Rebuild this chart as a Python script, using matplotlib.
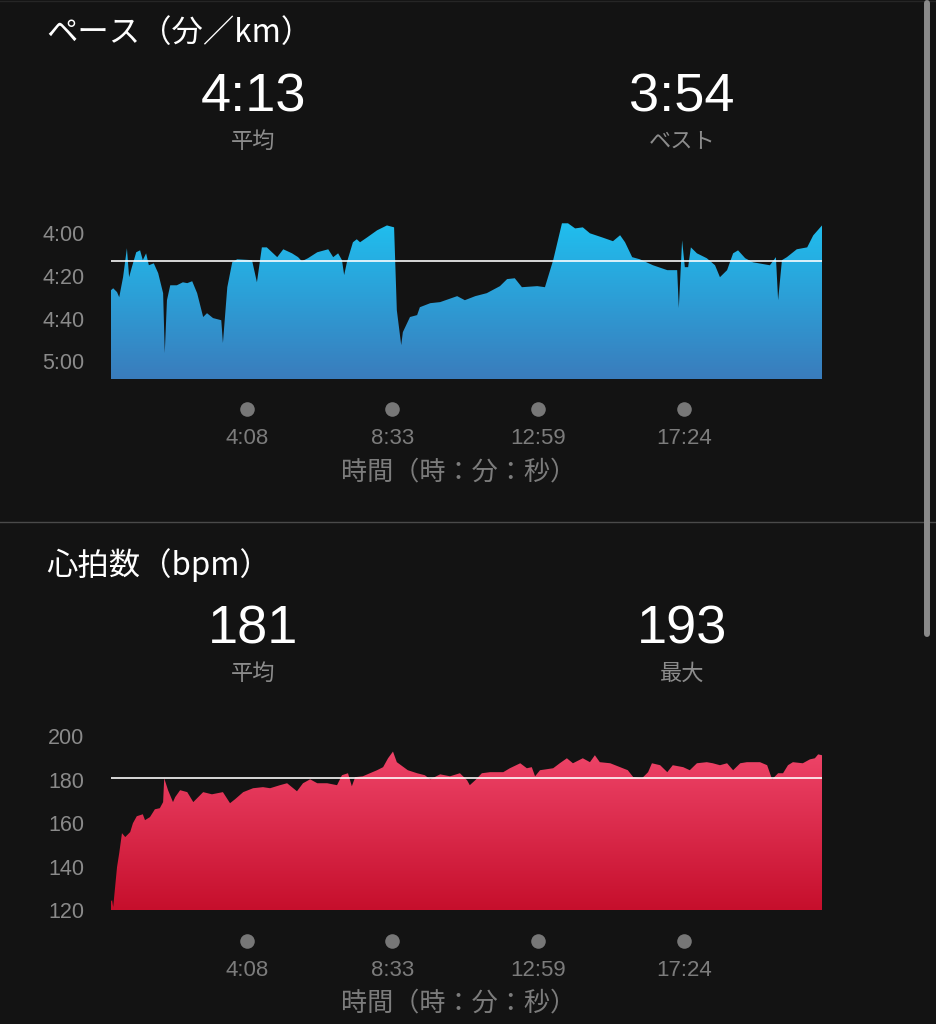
import numpy as np
import matplotlib
matplotlib.use('Agg')
import matplotlib.pyplot as plt
from matplotlib.colors import LinearSegmentedColormap
from matplotlib.lines import Line2D
from matplotlib import transforms

W, H = 937, 1024
bg = '#131313'

# elapsed time (s) / pace (s per km)
pace_t = [0, 4, 11, 15, 22, 29, 33, 38, 46, 53, 58, 64, 69, 78, 86, 95, 98, 102, 108, 120,
          131, 139, 148, 157, 168, 175, 186, 201, 204, 212, 221, 230, 257, 266, 275, 284, 303,
          314, 330, 341, 348, 359, 376, 396, 405, 414, 421, 425, 430, 441, 448, 454, 467, 485,
          503, 516, 521, 529, 532, 545, 558, 563, 582, 600, 631, 645, 664, 685, 709, 722, 736,
          749, 777, 791, 806, 822, 833, 846, 860, 873, 895, 915, 928, 937, 950, 964, 988, 1014,
          1032, 1035, 1041, 1046, 1052, 1057, 1068, 1086, 1101, 1110, 1123, 1134, 1143, 1156,
          1170, 1201, 1212, 1216, 1223, 1232, 1250, 1269, 1280, 1296]
pace_v = [266.7, 265.8, 267.6, 270.0, 260.6, 247.0, 260.6, 255.9, 248.9, 248.0, 252.6, 249.4,
          255.0, 254.1, 258.7, 268.1, 296.2, 271.4, 264.4, 264.4, 263.0, 263.4, 262.5, 268.1,
          279.3, 277.5, 279.8, 280.8, 291.5, 265.3, 253.6, 252.2, 252.6, 263.0, 246.6, 246.6,
          251.2, 247.5, 249.4, 251.2, 253.1, 251.7, 248.9, 247.5, 251.2, 249.4, 252.6, 259.6,
          253.6, 244.2, 242.8, 244.2, 241.9, 238.6, 236.3, 237.2, 276.1, 292.5, 286.4, 279.3,
          278.4, 274.7, 272.8, 272.3, 269.5, 271.4, 269.5, 268.1, 264.8, 261.5, 261.1, 265.3,
          264.8, 265.3, 252.6, 235.3, 235.3, 237.7, 237.2, 240.0, 241.9, 243.7, 240.9, 244.2,
          251.2, 252.2, 255.0, 257.3, 257.3, 275.1, 243.3, 255.9, 255.9, 246.6, 249.4, 251.7,
          255.0, 260.6, 257.3, 249.4, 248.0, 251.7, 253.6, 255.0, 251.2, 271.4, 252.6, 251.2,
          247.5, 246.6, 241.0, 236.3]
pace_avg = 253
pace_ticks = [240, 260, 280, 300]
pace_tick_labels = ['4:00', '4:20', '4:40', '5:00']

# elapsed time (s) / heart rate (bpm)
hr_t = [0, 2, 4, 11, 15, 20, 26, 35, 40, 47, 58, 62, 71, 80, 89, 95, 97, 104, 113, 117, 126,
        139, 150, 157, 168, 184, 204, 217, 226, 241, 259, 277, 290, 308, 321, 339, 350, 363,
        376, 394, 412, 421, 432, 439, 445, 459, 485, 496, 505, 514, 521, 541, 558, 572, 582,
        600, 618, 636, 649, 654, 664, 676, 691, 715, 727, 746, 758, 767, 773, 782, 806, 818,
        831, 842, 860, 873, 882, 891, 910, 928, 942, 952, 968, 979, 986, 1001, 1014, 1024,
        1043, 1055, 1068, 1086, 1097, 1110, 1123, 1134, 1147, 1159, 1170, 1183, 1196, 1205,
        1216, 1225, 1234, 1243, 1261, 1274, 1283, 1289, 1296]
hr_v = [124, 124.6, 121.4, 139.8, 146.2, 155.4, 153.6, 155.9, 160.0, 163.2, 164.1, 161.4,
        162.8, 166.4, 166.9, 169.7, 180.7, 175.2, 169.7, 172.0, 175.2, 174.3, 169.7, 171.5,
        174.3, 173.3, 174.3, 169.2, 171.0, 174.3, 176.1, 176.6, 176.1, 177.5, 178.4, 174.7,
        178.4, 180.2, 178.4, 178.4, 177.5, 182.1, 183.0, 177.0, 181.2, 181.6, 184.4, 185.8,
        189.9, 193.0, 188.1, 184.4, 183.0, 182.1, 180.2, 182.5, 181.6, 183.0, 179.8, 177.5,
        179.8, 183.0, 183.5, 183.5, 185.3, 187.6, 185.3, 185.8, 181.6, 184.4, 185.3, 187.6,
        189.9, 187.6, 189.9, 188.1, 191.3, 188.1, 187.6, 185.8, 184.4, 181.2, 180.7, 183.5,
        187.6, 186.7, 183.5, 186.7, 185.8, 184.4, 187.6, 188.1, 187.6, 186.7, 187.6, 184.4,
        187.6, 188.1, 188.1, 188.1, 186.7, 180.2, 183.0, 183.0, 186.7, 188.1, 187.6, 189.4,
        189.9, 191.7, 191.3]
hr_avg = 181
hr_ticks = [120, 140, 160, 180, 200]
hr_tick_labels = ['120', '140', '160', '180', '200']

total = 1296
x_ticks = [248, 513, 779, 1044]
x_tick_labels = ['4:08', '8:33', '12:59', '17:24']

jp = ['Noto Sans CJK JP', 'DejaVu Sans']
num = ['Liberation Sans', 'DejaVu Sans']
plt.rcParams['font.family'] = jp

fig = plt.figure(figsize=(W / 100, H / 100), dpi=100, facecolor=bg)


def fx(px):
    return px / W


def fy(py):
    return 1 - py / H


def panel(top, bottom, ylim, t, v, avg, c_top, c_bot, yticks, ylabels, dot_y, lab_y, axlab_y):
    ax = fig.add_axes([fx(111), fy(bottom), fx(822) - fx(111), (bottom - top) / H])
    ax.set_facecolor(bg)
    poly = ax.fill_between(t, v, ylim[0], color='none', lw=0)
    grad = np.linspace(0, 1, 256).reshape(-1, 1)
    cmap = LinearSegmentedColormap.from_list('g', [c_bot, c_top])
    im = ax.imshow(grad, cmap=cmap, aspect='auto', origin='lower',
                   extent=[0, total, ylim[0], ylim[1]], interpolation='bilinear')
    im.set_clip_path(poly.get_paths()[0], transform=ax.transData)
    ax.set_xlim(0, total)
    ax.set_ylim(*ylim)
    ax.axhline(avg, color='white', lw=1.3, alpha=0.9)
    for s in ax.spines.values():
        s.set_visible(False)
    ax.set_xticks([])
    ax.set_yticks(yticks, ylabels)
    ax.tick_params(axis='y', length=0, pad=19, labelcolor='#8a8a8a', labelsize=15.5)
    for lb in ax.get_yticklabels():
        lb.set_fontfamily(num)
    tr = transforms.blended_transform_factory(ax.transData, fig.transFigure)
    ax.scatter(x_ticks, [fy(dot_y)] * len(x_ticks), s=110, color='#777777',
               transform=tr, clip_on=False, lw=0)
    for xt, lab in zip(x_ticks, x_tick_labels):
        ax.text(xt, fy(lab_y), lab, transform=tr, ha='center', va='center',
                color='#7c7c7c', fontsize=16, family=num)
    fig.text(fx(459), fy(axlab_y), '時間（時：分：秒）', ha='center', va='center',
             color='#7c7c7c', fontsize=18.8)
    return ax


def header(y0, title, v1, l1, v2, l2):
    fig.text(fx(46), fy(y0), title, ha='left', va='center', color='white', fontsize=22.6)
    fig.text(fx(253), fy(y0 + 64), v1, ha='center', va='center', color='white',
             fontsize=39, family=num)
    fig.text(fx(253), fy(y0 + 108), l1, ha='center', va='center', color='#8c8c8c', fontsize=16)
    fig.text(fx(682), fy(y0 + 64), v2, ha='center', va='center', color='white',
             fontsize=39, family=num)
    fig.text(fx(682), fy(y0 + 108), l2, ha='center', va='center', color='#8c8c8c', fontsize=16)


header(33, 'ペース（分／km）', '4:13', '平均', '3:54', 'ベスト')
panel(212, 379, (308.4, 230), pace_t, pace_v, pace_avg, '#1ec3f2', '#3a7cbc',
      pace_ticks, pace_tick_labels, 409, 439, 472)

fig.add_artist(Line2D([0, 1], [fy(522), fy(522)], transform=fig.transFigure,
                      color='#4a4a4a', lw=1))
fig.add_artist(Line2D([0, 1], [fy(1), fy(1)], transform=fig.transFigure,
                      color='#262626', lw=1))

header(565, '心拍数（bpm）', '181', '平均', '193', '最大')
panel(732, 910, (120, 202), hr_t, hr_v, hr_avg, '#f34b70', '#c60f2c',
      hr_ticks, hr_tick_labels, 941, 970, 1003)

# scroll indicator
fig.add_artist(Line2D([fx(927), fx(927)], [fy(3), fy(634)], transform=fig.transFigure,
                      color='#8a8a8a', lw=4.3, solid_capstyle='round'))

fig.savefig('out.png', dpi=100, facecolor=bg)
